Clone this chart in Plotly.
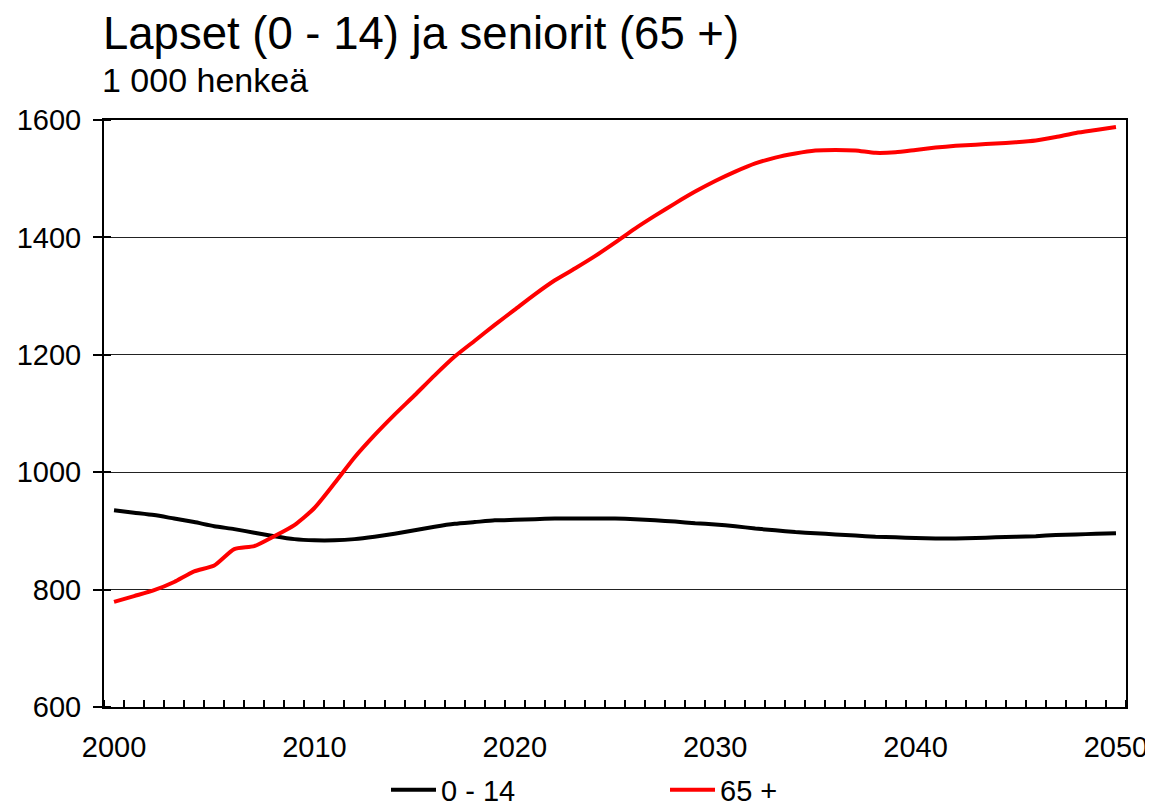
import plotly.graph_objects as go

years = list(range(2000, 2051))

children_0_14 = [
    935, 931, 927, 921, 915, 908, 903, 897, 891, 886,
    884, 884, 886, 890, 895, 901, 907, 912, 915, 918,
    919, 920, 921, 921, 921, 921, 920, 918, 916, 913,
    911, 908, 904, 901, 898, 896, 894, 892, 890, 889,
    888, 887, 887, 888, 889, 890, 891, 893, 894, 895,
    896,
]

seniors_65 = [
    779, 789, 799, 813, 831, 841, 869, 874, 891, 910,
    939, 981, 1025, 1063, 1098, 1131, 1165, 1197, 1224, 1251,
    1277, 1303, 1327, 1347, 1368, 1391, 1415, 1437, 1458, 1478,
    1496, 1512, 1526, 1536, 1543, 1548, 1549, 1548, 1544, 1545,
    1549, 1553, 1556, 1558, 1560, 1562, 1565, 1571, 1578, 1583,
    1588,
]

series_names = ["0 - 14", "65 +"]
series_colors = ["#000000", "#ff0000"]
x_labels = [2000, 2010, 2020, 2030, 2040, 2050]
y_ticks = [600, 800, 1000, 1200, 1400, 1600]

FONT = "Liberation Sans, Arial, sans-serif"
W, H = 1145, 801  # page body has an 8px margin

fig = go.Figure()
for name, vals, col in zip(series_names, [children_0_14, seniors_65], series_colors):
    fig.add_trace(go.Scatter(
        x=years, y=vals, name=name, mode="lines",
        line=dict(color=col, width=4, shape="spline", smoothing=0.6),
    ))

fig.update_layout(
    width=W, height=H,
    margin=dict(l=96, r=27, t=112, b=102, autoexpand=False),
    paper_bgcolor="white", plot_bgcolor="white",
    font=dict(family=FONT, size=29, color="black"),
    showlegend=True,
    legend=dict(
        orientation="h", xref="container", x=378 / W, xanchor="left",
        yref="container", y=1 - 782 / H, yanchor="middle",
        font=dict(size=29), entrywidth=219, entrywidthmode="pixels",
        itemwidth=45, tracegroupgap=0,
        bgcolor="rgba(0,0,0,0)",
    ),
    title=dict(
        text="Lapset (0 - 14) ja seniorit (65 +)",
        x=95 / W, xanchor="left", xref="container",
        y=1 - 25 / H, yanchor="middle", yref="container",
        font=dict(size=45.5, family=FONT, color="black"),
    ),
    annotations=[dict(
        text="1 000 henkeä", xref="paper", yref="paper",
        x=0, xanchor="left", xshift=-4, y=1 + 40 / 587, yanchor="middle",
        showarrow=False, font=dict(size=34, family=FONT, color="black"),
    )],
)

fig.update_xaxes(
    range=[1999.5, 2050.5], automargin=False,
    tickvals=x_labels, ticktext=[str(v) for v in x_labels],
    ticks="", showgrid=False, zeroline=False,
    showline=True, linecolor="black", linewidth=2, mirror=True,
    ticklabelstandoff=13,
    tickfont=dict(size=29),
    minor=dict(tickvals=[y + 0.5 for y in range(1999, 2051)], ticks="inside",
               ticklen=7, tickcolor="black", tickwidth=1.5, showgrid=False),
)

fig.update_yaxes(
    range=[600, 1600], automargin=False,
    tickvals=y_ticks, ticks="outside", ticklen=9, tickcolor="black", tickwidth=1.5,
    showgrid=True, gridcolor="#222222", gridwidth=1, zeroline=False,
    showline=True, linecolor="black", linewidth=2, mirror=True,
    ticklabelstandoff=6,
    tickfont=dict(size=29),
    minor=dict(tickvals=y_ticks, ticks="inside", ticklen=7,
               tickcolor="black", tickwidth=1.5, showgrid=False),
)

fig.write_html("out.html")
